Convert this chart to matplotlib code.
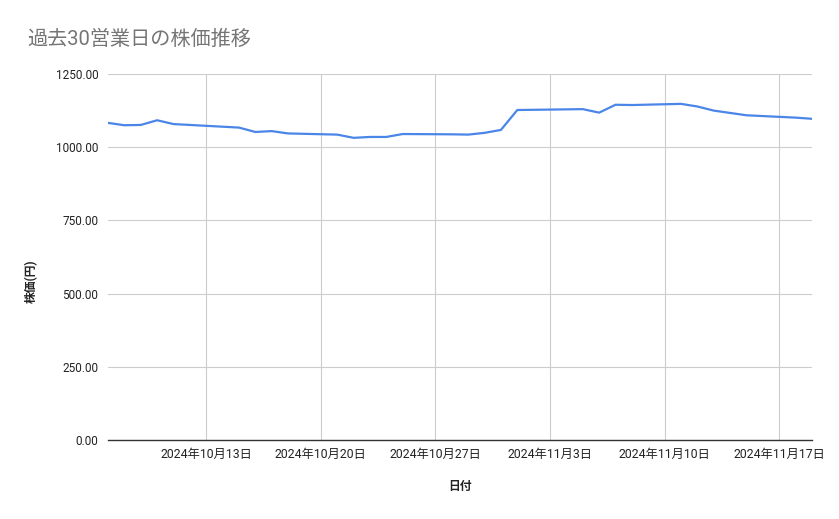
import numpy as np
import pandas as pd
import matplotlib
matplotlib.use("Agg")
import matplotlib.pyplot as plt
import matplotlib.dates as mdates

plt.rcParams['font.family'] = ['Roboto', 'Noto Sans CJK JP', 'DejaVu Sans']

# data (30 business days, JP holidays skipped)
dates = pd.to_datetime([
    "2024-10-07", "2024-10-08", "2024-10-09", "2024-10-10", "2024-10-11",
    "2024-10-15", "2024-10-16", "2024-10-17", "2024-10-18",
    "2024-10-21", "2024-10-22", "2024-10-23", "2024-10-24", "2024-10-25",
    "2024-10-28", "2024-10-29", "2024-10-30", "2024-10-31", "2024-11-01",
    "2024-11-05", "2024-11-06", "2024-11-07", "2024-11-08",
    "2024-11-11", "2024-11-12", "2024-11-13", "2024-11-14", "2024-11-15",
    "2024-11-18", "2024-11-19",
])
prices = [
    1083, 1075, 1076, 1092, 1079,
    1067, 1052, 1055, 1047,
    1043, 1032, 1035, 1035, 1045,
    1044, 1043, 1049, 1059, 1127,
    1130, 1118, 1145, 1144,
    1148, 1139, 1125, 1117, 1109,
    1101, 1097,
]
yticks = [0, 250, 500, 750, 1000, 1250]
xticks = pd.to_datetime(["2024-10-13", "2024-10-20", "2024-10-27",
                         "2024-11-03", "2024-11-10", "2024-11-17"])

fig = plt.figure(figsize=(8.39, 5.19), dpi=100)
ax = fig.add_axes([108/839, 1 - 440/519, (812 - 108)/839, (440 - 74)/519])

ax.plot(dates, prices, color='#4a86e8', linewidth=1.6, solid_joinstyle='round')

ax.set_ylim(0, 1250)
ax.set_xlim(dates[0], dates[-1])
ax.set_yticks(yticks)
ax.set_yticklabels([f"{v:.2f}" for v in yticks])
ax.set_xticks(xticks)
ax.set_xticklabels([f"{d.year}年{d.month}月{d.day}日" for d in xticks])

ax.grid(True, color='#cccccc', linewidth=0.8)
ax.set_axisbelow(True)
for s in ['top', 'right', 'left']:
    ax.spines[s].set_visible(False)
ax.spines['bottom'].set_color('#333333')
ax.spines['bottom'].set_linewidth(1.0)
ax.tick_params(axis='both', length=0, labelsize=8.5, labelcolor='#222222')
ax.tick_params(axis='x', labelsize=8.8, pad=6)
ax.tick_params(axis='y', pad=7)

fig.text(27/839, 1 - 39/519, "過去30営業日の株価推移", fontsize=14.5,
         color='#757575', va='center', ha='left')
fig.text(31/839, 1 - 281/519, "株価(円)", rotation=90, fontsize=8.5,
         color='#222222', va='center', ha='center', fontweight='bold')
fig.text(460/839, 1 - 486/519, "日付", fontsize=8.5,
         color='#222222', va='center', ha='center', fontweight='bold')

fig.savefig("out.png", dpi=100)
